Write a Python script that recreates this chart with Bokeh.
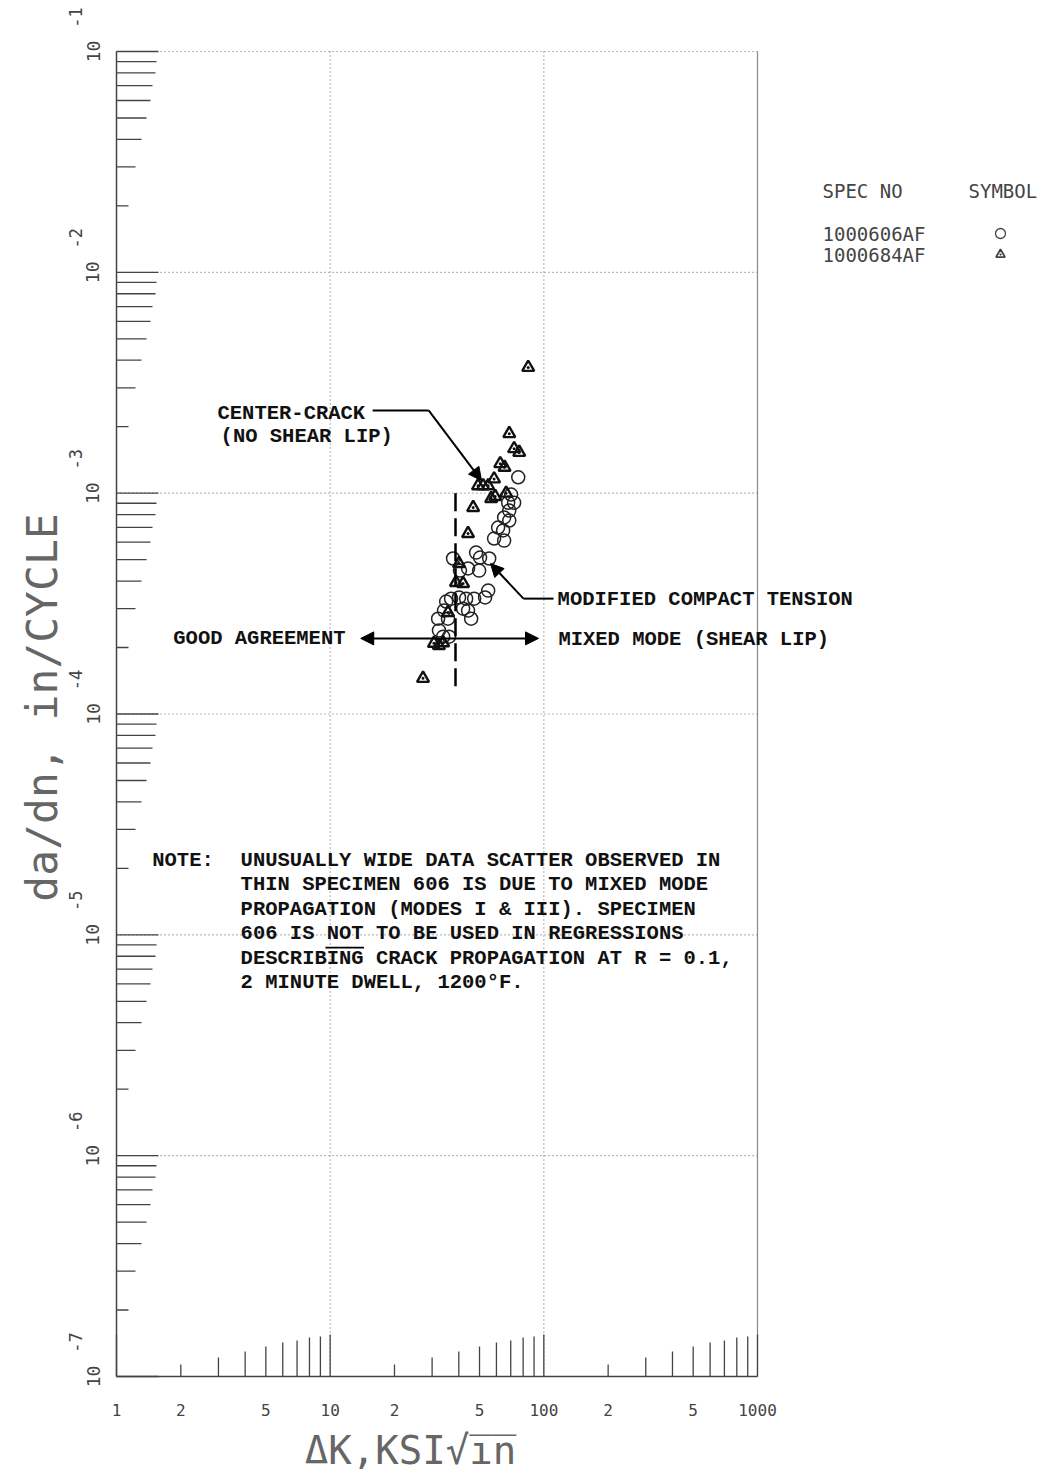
import math

from bokeh.core.properties import value
from bokeh.embed import file_html
from bokeh.models import (Arrow, ColumnDataSource, FixedTicker, Label,
                          LabelSet, LinearScale, LogAxis, NormalHead, Range1d)
from bokeh.plotting import figure
from bokeh.resources import INLINE

# Crack growth rate data, R = 0.1, 2 minute dwell, 1200 F
# Specimen 1000606AF (open circles): delta K [ksi*sqrt(in)], da/dn [in/cycle]
spec606_dk = [75.9, 68.1, 72.6, 70.3, 68.9, 65.2, 68.9, 61.1, 64.5, 58.5,
              65.2, 48.2, 50.3, 55.5, 37.6, 44.2, 49.8, 40.5, 54.9, 53.1,
              47.2, 43.3, 40.1, 36.8, 34.9, 44.2, 41.9, 45.7, 34.1, 32.0,
              35.6, 32.3, 33.8, 36.0]
spec606_dadn = [1.18e-3, 9.06e-4, 9.06e-4, 9.86e-4, 8.34e-4, 7.76e-4, 7.52e-4,
                6.99e-4, 6.78e-4, 6.23e-4, 6.10e-4, 5.38e-4, 5.11e-4, 5.06e-4,
                5.06e-4, 4.56e-4, 4.46e-4, 4.46e-4, 3.62e-4, 3.37e-4, 3.33e-4,
                3.33e-4, 3.37e-4, 3.33e-4, 3.23e-4, 2.94e-4, 3.00e-4, 2.70e-4,
                2.94e-4, 2.70e-4, 2.70e-4, 2.39e-4, 2.24e-4, 2.24e-4]

# Specimen 1000684AF (triangles)
spec684_dk = [84.5, 68.9, 72.6, 76.7, 62.5, 65.5, 58.5, 49.2, 52.0, 54.9,
              56.7, 59.2, 66.6, 46.7, 44.2, 40.1, 38.8, 41.9, 35.6, 30.6,
              32.3, 33.8, 27.2]
spec684_dadn = [3.71e-3, 1.86e-3, 1.59e-3, 1.53e-3, 1.36e-3, 1.31e-3, 1.16e-3,
                1.08e-3, 1.08e-3, 1.08e-3, 9.45e-4, 9.66e-4, 1.00e-3, 8.61e-4,
                6.56e-4, 4.80e-4, 3.94e-4, 3.90e-4, 2.88e-4, 2.09e-4, 2.04e-4,
                2.10e-4, 1.45e-4]

# Axis ticks and labels
x_ticks = [1, 2, 5, 10, 20, 50, 100, 200, 500, 1000]
x_tick_labels = ["1", "2", "5", "10", "2", "5", "100", "2", "5", "1000"]
x_decades = [1, 10, 100, 1000]
y_decades = [1e-7, 1e-6, 1e-5, 1e-4, 1e-3, 1e-2, 1e-1]
y_exponents = ["-7", "-6", "-5", "-4", "-3", "-2", "-1"]

# Inner tick lengths (pixels) for the 2..9 multiples and for each decade
minor_tick_len = [12, 19, 25, 30, 34, 36, 39, 40]
decade_tick_len = 42

# Boundary between agreement regions, delta K
split_dk = 38.6

# ---- page geometry (pixels) ----
W, H = 1047, 1479
LEFT, TOP = 116, 51            # position of the (1, 1e-1) corner
DEC_X, DEC_Y = 641 / 3, 1325 / 6   # pixels per decade
BOTTOM = TOP + 6 * DEC_Y

# the frame fills the whole page; log ranges are extended so that the
# grid box 1..1000 x 1e-7..1e-1 sits at the right place
x_lo = 10 ** (-LEFT / DEC_X)
x_hi = 10 ** ((W - LEFT) / DEC_X)
y_hi = 10 ** (-1 + TOP / DEC_Y)
y_lo = 10 ** (-1 - (H - TOP) / DEC_Y)

PLOT_FONT = "DejaVu Sans Mono"
TYPE_FONT = "Liberation Mono"
INK = "#444444"
TITLE_INK = "#666666"
TYPE_INK = "#111111"

p = figure(width=W, height=H,
           x_axis_type="log", y_axis_type="log",
           x_range=(x_lo, x_hi), y_range=(y_lo, y_hi),
           x_axis_location=None, y_axis_location=None,
           min_border=0, toolbar_location=None, output_backend="svg",
           outline_line_color=None,
           background_fill_color="white", border_fill_color="white")
p.xgrid.visible = False
p.ygrid.visible = False

# screen-pixel ranges (y downwards) for page furniture
p.extra_x_ranges = {"px": Range1d(0, W)}
p.extra_y_ranges = {"px": Range1d(H, 0)}
p.extra_x_scales = {"px": LinearScale()}
p.extra_y_scales = {"px": LinearScale()}

# dotted decade grid
p.segment(x0=x_decades[1:-1], x1=x_decades[1:-1],
          y0=[y_decades[0]] * 2, y1=[y_decades[-1]] * 2,
          line_color="#777777", line_dash="1 3", line_width=1.2)
p.segment(x0=[x_decades[0]] * 6, x1=[x_decades[-1]] * 6,
          y0=y_decades[1:], y1=y_decades[1:],
          line_color="#777777", line_dash="1 3", line_width=1.2)
# right-hand border
p.segment(x0=[x_decades[-1]], x1=[x_decades[-1]],
          y0=[y_decades[0]], y1=[y_decades[-1]],
          line_color="#8a8a8a", line_width=1.2)

# axes pinned to the grid box
xaxis = LogAxis(ticker=FixedTicker(ticks=x_ticks), fixed_location=1e-7,
                bounds=(1, 1000),
                major_label_overrides=dict(zip(x_ticks, x_tick_labels)),
                major_tick_line_color=None, minor_tick_line_color=None,
                axis_line_color=INK, axis_line_width=1.5,
                major_label_standoff=21,
                major_label_text_font=PLOT_FONT,
                major_label_text_font_size="16px",
                major_label_text_color=INK)
p.add_layout(xaxis, "below")

yaxis = LogAxis(ticker=FixedTicker(ticks=y_decades), fixed_location=1,
                bounds=(1e-7, 1e-1),
                major_label_overrides={d: "10" for d in y_decades},
                major_label_orientation="vertical",
                major_tick_line_color=None, minor_tick_line_color=None,
                axis_line_color=INK, axis_line_width=1.5,
                major_label_standoff=11,
                major_label_text_font=PLOT_FONT,
                major_label_text_font_size="18px",
                major_label_text_color=INK)
p.add_layout(yaxis, "left")

# decade exponents next to the "10" labels
exp_src = ColumnDataSource(dict(x=[LEFT - 41] * len(y_decades), y=y_decades,
                                t=y_exponents))
p.add_layout(LabelSet(x="x", y="y", text="t", source=exp_src,
                      x_range_name="px", y_offset=34, angle=math.pi / 2,
                      text_align="center", text_baseline="middle",
                      text_font=value(PLOT_FONT), text_font_size="17px",
                      text_color=INK))

# inward tick marks: left edge
ly, lx1 = [], []
for d in y_decades[:-1]:
    for m, L in zip(range(2, 10), minor_tick_len):
        ly.append(m * d)
        lx1.append(LEFT + L)
for d in y_decades:
    ly.append(d)
    lx1.append(LEFT + decade_tick_len)
p.segment(x0=[LEFT] * len(ly), x1=lx1, y0=ly, y1=ly, x_range_name="px",
          line_color=INK, line_width=1.3)

# inward tick marks: bottom edge
bx, by1 = [], []
for d in x_decades[:-1]:
    for m, L in zip(range(2, 10), minor_tick_len):
        bx.append(m * d)
        by1.append(BOTTOM - L)
for d in x_decades:
    bx.append(d)
    by1.append(BOTTOM - decade_tick_len)
p.segment(x0=bx, x1=bx, y0=[BOTTOM] * len(bx), y1=by1, y_range_name="px",
          line_color=INK, line_width=1.3)

# data
circle_style = dict(marker="circle", fill_color=None, line_color="#222222",
                    line_width=1.5)
triangle_style = dict(marker="triangle_dot", fill_color=None,
                      line_color="#111111", line_width=2.4)
p.scatter(spec606_dk, spec606_dadn, size=13, **circle_style)
p.scatter(spec684_dk, spec684_dadn, size=12, **triangle_style)

# annotations
def type_label(x, y, text, align="left", size="20.5px"):
    p.add_layout(Label(x=x, y=y, text=text, text_align=align,
                       text_baseline="middle", text_font=TYPE_FONT,
                       text_font_size=size, text_font_style="bold",
                       text_color=TYPE_INK))

head = dict(size=13, fill_color="black", line_color="black")

type_label(2.97, 2.30e-3, "CENTER-CRACK")
type_label(3.07, 1.80e-3, "(NO SHEAR LIP)")
p.line([15.8, 28.9], [2.37e-3, 2.37e-3], line_color="black", line_width=2)
p.add_layout(Arrow(x_start=28.9, y_start=2.37e-3, x_end=51.1, y_end=1.14e-3,
                   line_width=2, line_color="black", end=NormalHead(**head)))

type_label(116, 3.31e-4, "MODIFIED COMPACT TENSION")
p.line([111, 80.3], [3.33e-4, 3.33e-4], line_color="black", line_width=2)
p.add_layout(Arrow(x_start=80.3, y_start=3.33e-4, x_end=56.3, y_end=4.80e-4,
                   line_width=2, line_color="black", end=NormalHead(**head)))

type_label(11.8, 2.20e-4, "GOOD AGREEMENT", align="right")
type_label(117, 2.17e-4, "MIXED MODE (SHEAR LIP)")
p.add_layout(Arrow(x_start=split_dk, y_start=2.20e-4, x_end=13.9, y_end=2.20e-4,
                   line_width=2, line_color="black", end=NormalHead(**head)))
p.add_layout(Arrow(x_start=split_dk, y_start=2.20e-4, x_end=94.4, y_end=2.20e-4,
                   line_width=2, line_color="black", end=NormalHead(**head)))
p.segment(x0=[split_dk], x1=[split_dk], y0=[1e-3], y1=[1.28e-4],
          line_color="black", line_width=2.5, line_dash="18 7")

type_label(1.47, 2.17e-5, "NOTE:")
note_lines = [
    "UNUSUALLY WIDE DATA SCATTER OBSERVED IN",
    "THIN SPECIMEN 606 IS DUE TO MIXED MODE",
    "PROPAGATION (MODES I & III).  SPECIMEN",
    "606 IS NOT TO BE USED IN REGRESSIONS",
    "DESCRIBING CRACK PROPAGATION AT R = 0.1,",
    "2 MINUTE DWELL, 1200\u00b0F.",
]
note_y = [2.17e-5, 1.69e-5, 1.30e-5, 1.01e-5, 7.81e-6, 6.08e-6]
for t, y in zip(note_lines, note_y):
    type_label(3.81, y, t)
# underline under "NOT"
p.line([9.5, 14.4], [8.75e-6, 8.75e-6], line_color="black", line_width=1.6)

# specimen key
def page_label(x, y, text, size="19px", align="center", angle=0.0,
               color=INK):
    p.add_layout(Label(x=x, y=y, text=text, text_align=align, angle=angle,
                       text_baseline="middle", text_font=PLOT_FONT,
                       text_font_size=size, text_color=color,
                       x_range_name="px", y_range_name="px"))

page_label(822, 190, "SPEC NO", align="left")
page_label(968, 190, "SYMBOL", align="left")
page_label(822, 233, "1000606AF", align="left")
page_label(822, 254, "1000684AF", align="left")
p.scatter([1000], [233], size=10, x_range_name="px", y_range_name="px",
          **{**circle_style, "line_width": 1.3, "line_color": INK})
p.scatter([1000], [254], size=9, x_range_name="px", y_range_name="px",
          **{**triangle_style, "line_width": 1.8, "line_color": INK})

# axis titles
page_label(41, 707, "da/dn, in/CYCLE", size="43px", angle=math.pi / 2,
           color=TITLE_INK)
page_label(410, 1450, "\u0394K,KSI\u221ai\u0305n\u0305", size="39px",
           color=TITLE_INK)

open("out.html", "w").write(file_html(p, INLINE))
